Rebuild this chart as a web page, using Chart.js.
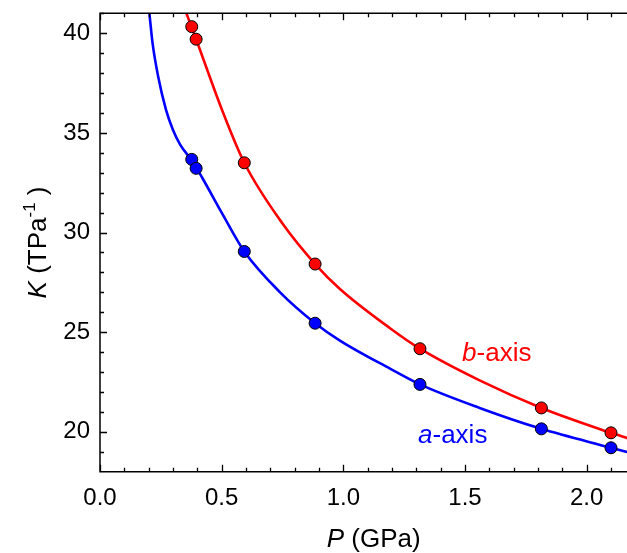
<!DOCTYPE html>
<html>
<head>
<meta charset="utf-8">
<script src="https://cdn.jsdelivr.net/npm/chart.js@4.4.0/dist/chart.umd.min.js"></script>
<style>
  html, body { margin: 0; padding: 0; background: #fff; overflow: hidden; }
  #wrap { width: 660px; height: 553px; position: relative; }
</style>
</head>
<body>
<div id="wrap"><canvas id="kplot"></canvas></div>
<script>
// measured linear compressibilities vs pressure
const pressure = [0.377, 0.395, 0.593, 0.884, 1.315, 1.814, 2.100];
const kA = [33.67, 33.22, 29.05, 25.45, 22.38, 20.15, 19.20];
const kB = [40.33, 39.70, 33.50, 28.42, 24.17, 21.20, 19.95];

// fitted curves, sampled
const fitPA = [0.203, 0.216, 0.239, 0.271, 0.300, 0.330, 0.377, 0.420, 0.500, 0.593, 0.740, 0.884, 0.986, 1.192, 1.315, 1.560, 1.814, 2.100, 2.170];
const fitKA = [41.00, 39.50, 37.83, 36.17, 35.15, 34.40, 33.62, 32.75, 31.00, 29.05, 27.00, 25.45, 24.58, 23.17, 22.38, 21.20, 20.15, 19.20, 18.97];
const fitPB = [0.355, 0.395, 0.500, 0.593, 0.747, 0.884, 0.986, 1.192, 1.315, 1.560, 1.814, 2.100, 2.170];
const fitKB = [41.00, 39.70, 36.20, 33.50, 30.50, 28.42, 27.17, 25.20, 24.17, 22.58, 21.20, 19.95, 19.67];

const xTicks = [0, 0.5, 1.0, 1.5, 2.0];
const yTicks = [20, 25, 30, 35, 40];

// curve labels: italic letter + rest, anchored at (P, K) of the text baseline start
const curveLabels = [
  { letter: 'a', rest: '-axis', color: '#0000ff', p: 1.307, k: 19.42 },
  { letter: 'b', rest: '-axis', color: '#ff0000', p: 1.488, k: 23.53 }
];

const BLUE = '#0000ff';
const RED = '#ff0000';
const FONT = '"Liberation Sans", Arial, sans-serif';

function pts(xs, ys) {
  return xs.map((x, i) => ({ x: x, y: ys[i] }));
}

// draws text runs (mixed italic / superscript) starting at x, baseline y
function drawRuns(ctx, runs, x, y, size) {
  let cx = x;
  runs.forEach(r => {
    const s = r.sup ? size * 0.65 : size;
    ctx.font = (r.italic ? 'italic ' : '') + s + 'px ' + FONT;
    ctx.fillText(r.t, cx, r.sup ? y - size * 0.42 : y);
    cx += ctx.measureText(r.t).width;
  });
}
function runsWidth(ctx, runs, size) {
  let w = 0;
  runs.forEach(r => {
    const s = r.sup ? size * 0.65 : size;
    ctx.font = (r.italic ? 'italic ' : '') + s + 'px ' + FONT;
    w += ctx.measureText(r.t).width;
  });
  return w;
}

const frame = {
  id: 'frame',
  afterDatasetsDraw(chart) {
    const ctx = chart.ctx;
    const a = chart.chartArea;
    const xs = chart.scales.x, ys = chart.scales.y;
    ctx.save();
    ctx.strokeStyle = '#000';
    ctx.lineWidth = 1.5;
    ctx.beginPath();
    ctx.moveTo(a.left, a.top);
    ctx.lineTo(a.left, a.bottom);
    ctx.lineTo(a.right, a.bottom);
    ctx.lineTo(a.right, a.top);
    ctx.closePath();
    ctx.stroke();

    // inward ticks on all four sides
    ctx.lineWidth = 1.3;
    ctx.beginPath();
    for (let i = 0; i <= 22; i++) {
      const v = i / 10;
      const len = (i % 5 === 0) ? 7 : 4;
      const px = Math.round(xs.getPixelForValue(v)) + 0.5;
      ctx.moveTo(px, a.bottom); ctx.lineTo(px, a.bottom - len);
      ctx.moveTo(px, a.top); ctx.lineTo(px, a.top + len);
    }
    for (let v = 19; v <= 41; v++) {
      const len = (v % 5 === 0) ? 7 : 4;
      const py = Math.round(ys.getPixelForValue(v)) + 0.5;
      ctx.moveTo(a.left, py); ctx.lineTo(a.left + len, py);
      ctx.moveTo(a.right, py); ctx.lineTo(a.right - len, py);
    }
    ctx.stroke();

    // axis titles
    ctx.fillStyle = '#000';
    ctx.textBaseline = 'alphabetic';
    const xRuns = [{ t: 'P', italic: true }, { t: ' (GPa)' }];
    const xw = runsWidth(ctx, xRuns, 26);
    drawRuns(ctx, xRuns, (a.left + a.right) / 2 - xw / 2, 547, 26);

    const yRuns = [{ t: 'K', italic: true }, { t: ' (TPa' }, { t: '-1', sup: true }, { t: ' )' }];
    const yw = runsWidth(ctx, yRuns, 26);
    ctx.save();
    ctx.translate(46, (a.top + a.bottom) / 2);
    ctx.rotate(-Math.PI / 2);
    drawRuns(ctx, yRuns, -yw / 2, 0, 26);
    ctx.restore();

    // curve labels
    curveLabels.forEach(l => {
      ctx.fillStyle = l.color;
      drawRuns(ctx, [{ t: l.letter, italic: true }, { t: l.rest }],
        xs.getPixelForValue(l.p), ys.getPixelForValue(l.k), 26);
    });
    ctx.restore();
  }
};

Chart.defaults.font.family = FONT;
Chart.defaults.color = '#000';

new Chart('kplot', {
  type: 'scatter',
  data: {
    datasets: [
      {
        label: 'a data', data: pts(pressure, kA), order: 0,
        backgroundColor: BLUE, borderColor: '#000', borderWidth: 1, pointRadius: 6
      },
      {
        label: 'b data', data: pts(pressure, kB), order: 0,
        backgroundColor: RED, borderColor: '#000', borderWidth: 1, pointRadius: 6
      },
      {
        label: 'a fit', data: pts(fitPA, fitKA), order: 1, showLine: true,
        borderColor: BLUE, borderWidth: 2.6, pointRadius: 0, cubicInterpolationMode: 'monotone'
      },
      {
        label: 'b fit', data: pts(fitPB, fitKB), order: 1, showLine: true,
        borderColor: RED, borderWidth: 2.6, pointRadius: 0, cubicInterpolationMode: 'monotone'
      }
    ]
  },
  options: {
    responsive: true,
    maintainAspectRatio: false,
    animation: false,
    layout: { padding: { top: 13.3, right: 12.5, left: 0, bottom: 0 } },
    plugins: { legend: { display: false }, tooltip: { enabled: false } },
    scales: {
      x: {
        type: 'linear', min: 0, max: 2.25,
        grid: { display: false, drawTicks: false },
        border: { display: false },
        ticks: { padding: 12, font: { size: 24 }, callback: v => v.toFixed(1) },
        afterBuildTicks: s => { s.ticks = xTicks.map(v => ({ value: v })); },
        afterFit: s => { s.height = 81.3; s.paddingLeft = 0; s.paddingRight = 0; }
      },
      y: {
        type: 'linear', min: 18, max: 41,
        grid: { display: false, drawTicks: false },
        border: { display: false },
        ticks: { padding: 10, font: { size: 24 } },
        afterBuildTicks: s => { s.ticks = yTicks.map(v => ({ value: v })); },
        afterFit: s => { s.width = 100; s.paddingTop = 0; s.paddingBottom = 0; }
      }
    }
  },
  plugins: [frame]
});
</script>
</body>
</html>
